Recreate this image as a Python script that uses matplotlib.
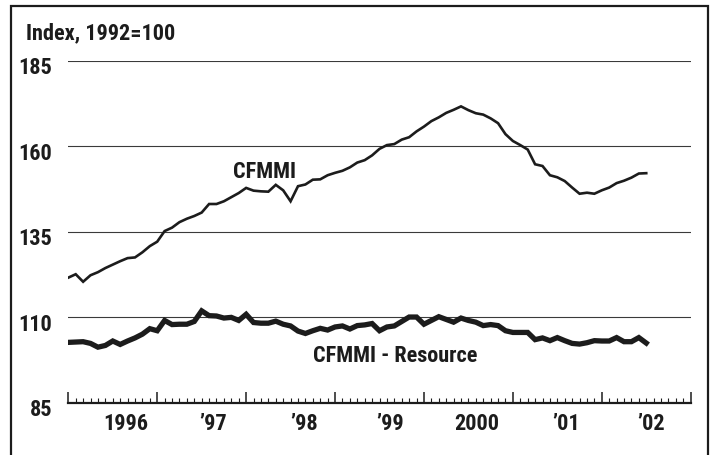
import numpy as np
import matplotlib
matplotlib.use("Agg")
import matplotlib.pyplot as plt
from matplotlib import font_manager
from matplotlib.patches import Rectangle
from matplotlib.transforms import ScaledTranslation

# ---- data (monthly index values, 1992=100) ----
cfmmi = [121.6, 122.6, 120.4, 122.3, 123.2, 124.4, 125.4, 126.4, 127.3, 127.5,
         129.0, 130.8, 132.1, 135.2, 136.2, 137.8, 138.8, 139.6, 140.6, 143.1,
         143.1, 143.9, 145.1, 146.3, 147.8, 147.0, 146.8, 146.7, 148.7, 147.1,
         143.9, 148.3, 148.8, 150.2, 150.3, 151.5, 152.2, 152.8, 153.8, 155.2,
         155.9, 157.3, 159.2, 160.3, 160.6, 161.9, 162.6, 164.3, 165.7, 167.3,
         168.4, 169.7, 170.6, 171.6, 170.5, 169.6, 169.2, 168.1, 166.7, 163.5,
         161.5, 160.3, 159.0, 154.7, 154.2, 151.5, 150.9, 149.8, 147.9, 146.1,
         146.4, 146.1, 147.1, 147.9, 149.2, 149.9, 150.8, 152.0, 152.1]
resource = [102.7, 102.8, 102.9, 102.4, 101.3, 101.8, 103.1, 102.1, 103.1, 104.0,
            105.1, 106.7, 106.1, 109.1, 107.9, 108.0, 108.0, 108.8, 111.9, 110.5,
            110.4, 109.8, 110.0, 109.1, 110.9, 108.5, 108.3, 108.3, 108.9, 108.0,
            107.5, 106.0, 105.3, 106.1, 106.8, 106.3, 107.2, 107.5, 106.6, 107.6,
            107.8, 108.2, 106.1, 107.2, 107.5, 108.8, 110.1, 110.1, 108.0, 109.1,
            110.2, 109.4, 108.6, 109.8, 109.1, 108.6, 107.6, 107.9, 107.6, 106.1,
            105.6, 105.6, 105.6, 103.5, 104.0, 103.2, 104.1, 103.2, 102.4, 102.2,
            102.6, 103.2, 103.1, 103.1, 104.1, 102.9, 102.9, 104.1, 102.5]
year_labels = ["1996", "\u201997", "\u201998", "\u201999", "2000", "\u201901", "\u201902"]
y_ticks = [85, 110, 135, 160, 185]
series_labels = ["CFMMI", "CFMMI - Resource"]

# ---- fonts ----
avail = {f.name for f in font_manager.fontManager.ttflist}
fam = [f for f in ["Liberation Sans Narrow", "Roboto Condensed", "Liberation Sans", "DejaVu Sans"] if f in avail]
plt.rcParams["font.family"] = fam
FS = 16

W, H = 711, 455
fig = plt.figure(figsize=(W / 100, H / 100), dpi=100)
ax = fig.add_axes([68.3 / W, 52 / H, 622.4 / W, 342.5 / H])

x_c = np.arange(len(cfmmi))
x_r = np.arange(len(resource))
ink = "#1c1c1c"

for v in y_ticks[1:]:
    ax.axhline(v, color="#3a3a3a", lw=0.8, zorder=1)

ax.plot(x_r, resource, color=ink, lw=3.8, solid_joinstyle="miter", zorder=3)
ax.plot(x_c, cfmmi, color=ink, lw=1.9, solid_joinstyle="miter", zorder=3)

ax.set_xlim(0, 84)
ax.set_ylim(85, 185)
for s in ["top", "right", "left"]:
    ax.spines[s].set_visible(False)
ax.spines["bottom"].set_linewidth(1.6)
ax.spines["bottom"].set_color(ink)

# x ticks: months minor, years major, pointing up
ax.set_xticks(np.arange(0, 85, 12))
ax.set_xticks(np.arange(0, 85, 1), minor=True)
ax.tick_params(axis="x", which="major", direction="in", length=8, width=1.1, color=ink, labelbottom=False)
ax.tick_params(axis="x", which="minor", direction="in", length=3.8, width=0.8, color=ink)

label_pos = [7.8, 19.5, 31.8, 43.4, 55.1, 67.2, 78.7]
for p, lab in zip(label_pos, year_labels):
    ax.text(p, 85, lab, transform=ax.transData + ScaledTranslation(0, -0.215, fig.dpi_scale_trans),
            ha="center", va="center", fontsize=FS, fontweight="bold", color=ink)

# y tick labels
ax.set_yticks(y_ticks)
ax.set_yticklabels([str(v) for v in y_ticks], fontsize=FS, fontweight="bold", color=ink)
ax.tick_params(axis="y", length=0, pad=11.5)
for lab in ax.get_yticklabels():
    lab.set_transform(lab.get_transform() + ScaledTranslation(0, -0.05, fig.dpi_scale_trans))

# series labels
ax.text(26.5, 152.3, series_labels[0], ha="center", va="center", fontsize=FS, fontweight="bold", color=ink)
ax.text(44.1, 98.7, series_labels[1], ha="center", va="center", fontsize=FS, fontweight="bold", color=ink)

# title
fig.text(26.5 / W, (H - 39.3) / H, "Index, 1992=100", ha="left", va="baseline",
         fontsize=FS, fontweight="bold", color=ink)

# frame
fig.add_artist(Rectangle((11 / W, -0.02), (708 - 11) / W, (H - 6) / H + 0.02,
                         transform=fig.transFigure, fill=False, lw=1.6, edgecolor=ink, clip_on=False))

fig.savefig("out.png", dpi=100, facecolor="white")
